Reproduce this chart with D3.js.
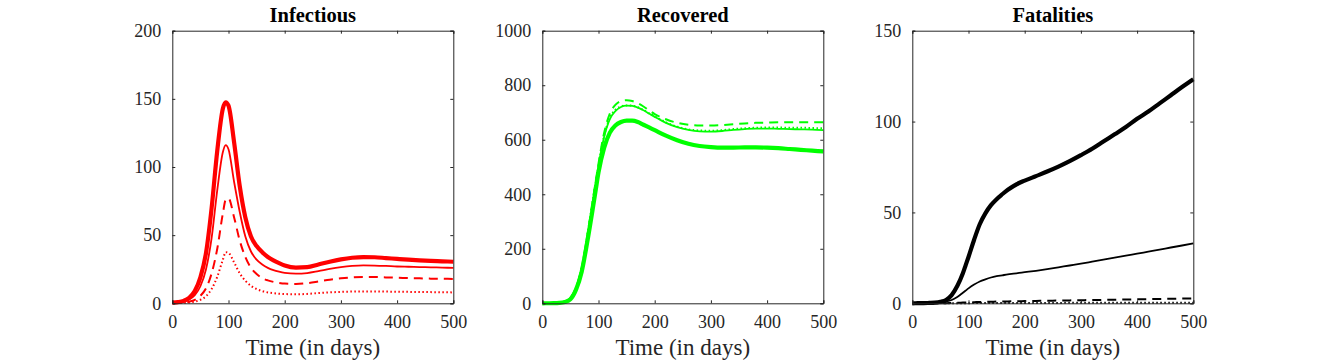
<!DOCTYPE html>
<html>
<head>
<meta charset="utf-8">
<script src="https://cdn.jsdelivr.net/npm/d3@7"></script>
<style>
  body { margin: 0; background: #fff; }
  svg { display: block; }
  text { font-family: "Liberation Serif", "Times New Roman", serif; }
</style>
</head>
<body>
<svg id="chart" width="1320" height="361"></svg>
<script>
// ---- data ----
const days = [0,10,20,30,40,50,60,70,80,90,95,100,110,120,130,140,150,160,170,180,190,200,220,240,260,280,300,320,340,360,380,400,420,440,460,480,500];

// Infectious
const infA = [0.5,0.9,1.8,4,9,19,37,70,112,143,147.5,145,118,86,63,49,42,37.5,34,31.5,29.5,27.8,26.2,26.5,28.5,30.5,32.2,33.4,33.9,33.8,33.2,32.6,32,31.5,31.1,30.8,30.5];
const infB = [0.4,0.7,1.3,2.8,6,12.5,25,48,83,111,116,113,89,67,49,38,32,28.5,26,24.3,23.2,22.4,21.8,22.2,23.6,25.2,26.5,27.4,27.8,27.7,27.4,27,26.8,26.6,26.4,26.2,26];
const infC = [0.2,0.3,0.6,1.2,2.5,5.5,11,22,40,66,76,77,63,46,34,26,21.5,18.5,16.8,15.7,15,14.5,14.2,14.8,16,17.3,18.3,19,19.3,19.3,19,18.8,18.5,18.3,18.1,18,17.9];
const infD = [0.1,0.15,0.3,0.6,1.2,2.6,5.2,10.5,19.5,32,37.5,37,30,22,16.5,12.8,10.5,9,8,7.4,7,6.8,6.6,6.9,7.5,8,8.4,8.6,8.7,8.7,8.6,8.5,8.4,8.3,8.2,8.1,8];

// Recovered
const recA = [0,0.2,0.5,1.5,5,15,50,115,225,350,415,480,570,625,652,665,670,670,665,655,645,635,615,598,585,577,573,571,571,572,572,571,569,566,563,560,557];
const recB = [0,0.2,0.6,1.8,6,18,55,125,240,370,438,505,610,675,705,720,725,724,718,708,696,684,662,646,636,631,630,632,636,639,641,641,640,639,638,637,635];
const recC = [0,0.2,0.6,1.8,6,19,58,130,248,380,448,512,625,695,728,742,745,742,734,722,708,694,675,662,655,652,652,654,657,660,662,663,664,664,664,664,664];
const recD = [0,0.2,0.6,1.8,6,19,58,130,248,380,444,506,614,680,710,722,726,725,719,709,697,686,664,648,638,634,633,635,639,642,644,645,645,644,644,643,642];

// Fatalities
const fatA = [0,0.05,0.1,0.2,0.35,0.8,1.8,4.5,9.5,16.5,21,25.5,35,43.5,49.5,54,57.3,60,62.5,64.5,66.2,67.5,70,72.5,75.2,78.2,81.5,85,89,93,97,101.5,105.5,110,114.5,119,123.3];
const fatB = [0,0.02,0.05,0.1,0.2,0.4,0.9,1.8,3.5,5.8,7,8.2,10.3,12,13.2,14.2,14.9,15.4,15.9,16.3,16.7,17.1,17.9,18.8,19.8,20.8,21.8,22.9,24,25.1,26.2,27.3,28.4,29.5,30.7,31.8,33];
const fatC = [0,0,0,0.01,0.02,0.04,0.08,0.15,0.25,0.38,0.45,0.52,0.64,0.74,0.82,0.88,0.94,1.0,1.05,1.1,1.15,1.2,1.3,1.4,1.5,1.6,1.7,1.8,1.9,2.0,2.1,2.2,2.3,2.4,2.5,2.6,2.7];
const fatD = [0,0,0,0,0,0.01,0.02,0.03,0.05,0.07,0.08,0.09,0.11,0.12,0.13,0.14,0.15,0.16,0.17,0.18,0.19,0.2,0.21,0.22,0.23,0.24,0.25,0.26,0.27,0.28,0.29,0.3,0.31,0.32,0.33,0.34,0.35];

const xTicks = [0,100,200,300,400,500];
const titles = ["Infectious","Recovered","Fatalities"];
const yMaxes = [200,1000,150];
const yTickSets = [[0,50,100,150,200],[0,200,400,600,800,1000],[0,50,100,150]];
const colors = ["#ff0000","#00ff00","#000000"];
const panelSeries = [[infA,infB,infC,infD],[recA,recB,recC,recD],[fatA,fatB,fatC,fatD]];
const xLabel = "Time (in days)";

// ---- layout ----
const svg = d3.select("#chart");
const panelLefts = [172.3, 542.3, 912.3];
const pw = 281, plotTop = 30.7, plotBottom = 303.3;
const styles = [
  {w: 4.2, dash: null},
  {w: 1.8, dash: null},
  {w: 2.0, dash: "9,6"},
  {w: 2.0, dash: "1.5,2.5"}
];
const tickLen = 3;
const axisColor = "#262626";
const serif = '"Liberation Serif", "Times New Roman", serif';

panelLefts.forEach((left, p) => {
  const x = d3.scaleLinear().domain([0,500]).range([left, left + pw]);
  const y = d3.scaleLinear().domain([0, yMaxes[p]]).range([plotBottom, plotTop]);
  const g = svg.append("g");

  const line = d3.line().x((d,i) => x(days[i])).y(d => y(d)).curve(d3.curveMonotoneX);
  [3,2,1,0].forEach(k => {
    const st = styles[k];
    g.append("path")
      .datum(panelSeries[p][k])
      .attr("d", line)
      .attr("fill","none")
      .attr("stroke", colors[p])
      .attr("stroke-width", st.w)
      .attr("stroke-linejoin","round")
      .attr("stroke-dasharray", st.dash);
  });

  const axB = d3.axisBottom(x).tickValues(xTicks).tickSize(-tickLen).tickPadding(12).tickFormat(d3.format("d"));
  const axT = d3.axisTop(x).tickValues(xTicks).tickSize(-tickLen).tickFormat("");
  const axL = d3.axisLeft(y).tickValues(yTickSets[p]).tickSize(-tickLen).tickPadding(11).tickFormat(d3.format("d"));
  const axR = d3.axisRight(y).tickValues(yTickSets[p]).tickSize(-tickLen).tickFormat("");

  const gb = g.append("g").attr("transform",`translate(0,${plotBottom})`).call(axB);
  const gt = g.append("g").attr("transform",`translate(0,${plotTop})`).call(axT);
  const gl = g.append("g").attr("transform",`translate(${left},0)`).call(axL);
  const gr = g.append("g").attr("transform",`translate(${left+pw},0)`).call(axR);
  [gb,gt,gl,gr].forEach(a => {
    a.attr("font-family", serif).attr("font-size", 18);
    a.select(".domain").attr("stroke", axisColor).attr("stroke-width",1);
    a.selectAll(".tick line").attr("stroke", axisColor).attr("stroke-width",1);
    a.selectAll("text").attr("fill", axisColor);
  });

  g.append("text")
    .attr("x", left + pw/2).attr("y", 22)
    .attr("text-anchor","middle")
    .attr("font-family", serif)
    .attr("font-size", 20.5).attr("font-weight","bold")
    .attr("fill","#000")
    .text(titles[p]);

  g.append("text")
    .attr("x", left + pw/2).attr("y", 355)
    .attr("text-anchor","middle")
    .attr("font-family", serif)
    .attr("font-size", 23)
    .attr("fill", axisColor)
    .text(xLabel);
});
</script>
</body>
</html>
